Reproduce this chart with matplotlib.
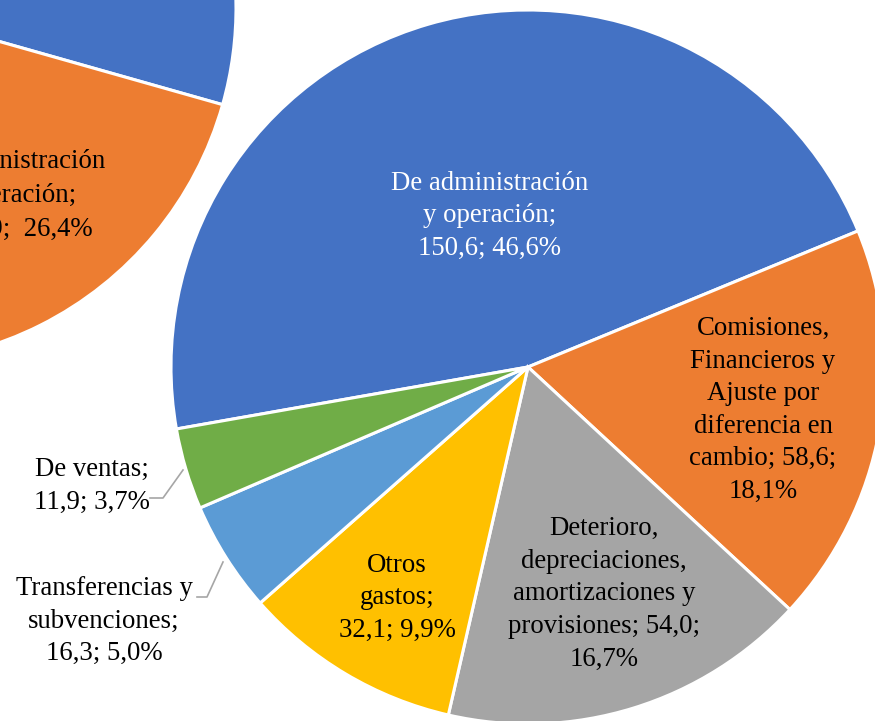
"""
Gastos por tipo: dos tortas recortadas (la derecha completa, la izquierda parcial).
Guarda out.png a 875x721 px.
"""
import matplotlib.pyplot as plt

W, H = 875, 721

# pie principal (derecha)
categories = [
    "De administración y operación",
    "Comisiones, Financieros y Ajuste por diferencia en cambio",
    "Deterioro, depreciaciones, amortizaciones y provisiones",
    "Otros gastos",
    "Transferencias y subvenciones",
    "De ventas",
]
values = [150.6, 58.6, 54.0, 32.1, 16.3, 11.9]
percents = [46.6, 18.1, 16.7, 9.9, 5.0, 3.7]
label_templates = [
    "De administración\ny operación;\n{v}; {p}",
    "Comisiones,\nFinancieros y\nAjuste por\ndiferencia en\ncambio; {v};\n{p}",
    "Deterioro,\ndepreciaciones,\namortizaciones y\nprovisiones; {v};\n{p}",
    "Otros\ngastos;\n{v}; {p}",
    "Transferencias y\nsubvenciones;\n{v}; {p}",
    "De ventas;\n{v}; {p}",
]
colors = ["#4472C4", "#ED7D31", "#A5A5A5", "#FFC000", "#5B9BD5", "#70AD47"]

# pie de la izquierda (solo se ve una parte)
left_values = [73.6, 26.4]
left_lines = ["De administración", "y operación;", "84,9;  {p}"]
left_colors = ["#4472C4", "#ED7D31"]


def fmt(x, pct=False):
    s = f"{x:.1f}".replace(".", ",")
    return s + "%" if pct else s


def Y(y):
    # pixel row (desde arriba) -> coordenada de datos
    return H - y


plt.rcParams["font.family"] = ["Liberation Serif", "DejaVu Serif"]
FS = 19.3
LS = 1.4

fig = plt.figure(figsize=(W / 100, H / 100), dpi=100)
ax = fig.add_axes([0, 0, 1, 1])

wedge = dict(edgecolor="white", linewidth=2.2)
ax.pie(values, colors=colors, startangle=190, counterclock=False,
       center=(528, Y(367)), radius=357, wedgeprops=wedge)
ax.pie(left_values, colors=left_colors, startangle=-15.8 + 3.6 * left_values[0],
       counterclock=False, center=(-119, Y(8)), radius=355, wedgeprops=wedge)

labels = [t.format(v=fmt(v), p=fmt(p, True))
          for t, v, p in zip(label_templates, values, percents)]

# posiciones de las etiquetas (px)
label_pos = [(490, 216), (763, 410), (604, 594), (397, 598), (104, 621), (92, 486)]
label_col = ["white", "black", "black", "black", "black", "black"]
for txt, (x, y), c in zip(labels, label_pos, label_col):
    ax.text(x, Y(y), txt, ha="center", va="center", fontsize=FS, color=c,
            linespacing=LS)

# etiqueta del pie izquierdo: solo se ve el final de cada linea
left_ends = [(105, 162), (76, 195), (93, 229)]
for line, (x, y) in zip(left_lines, left_ends):
    ax.text(x, Y(y), line.format(p=fmt(left_values[1], True)),
            ha="right", va="center", fontsize=FS, color="black")

# lineas guia de las etiquetas externas
leaders = [
    [(183, 470), (163, 498), (150, 498)],
    [(223, 562), (207, 597), (197, 597)],
]
for pts in leaders:
    ax.plot([p[0] for p in pts], [Y(p[1]) for p in pts], color="#A6A6A6", lw=1.2)

ax.set_xlim(0, W)
ax.set_ylim(0, H)
ax.set_aspect("auto")
ax.axis("off")

fig.savefig("out.png", dpi=100)
